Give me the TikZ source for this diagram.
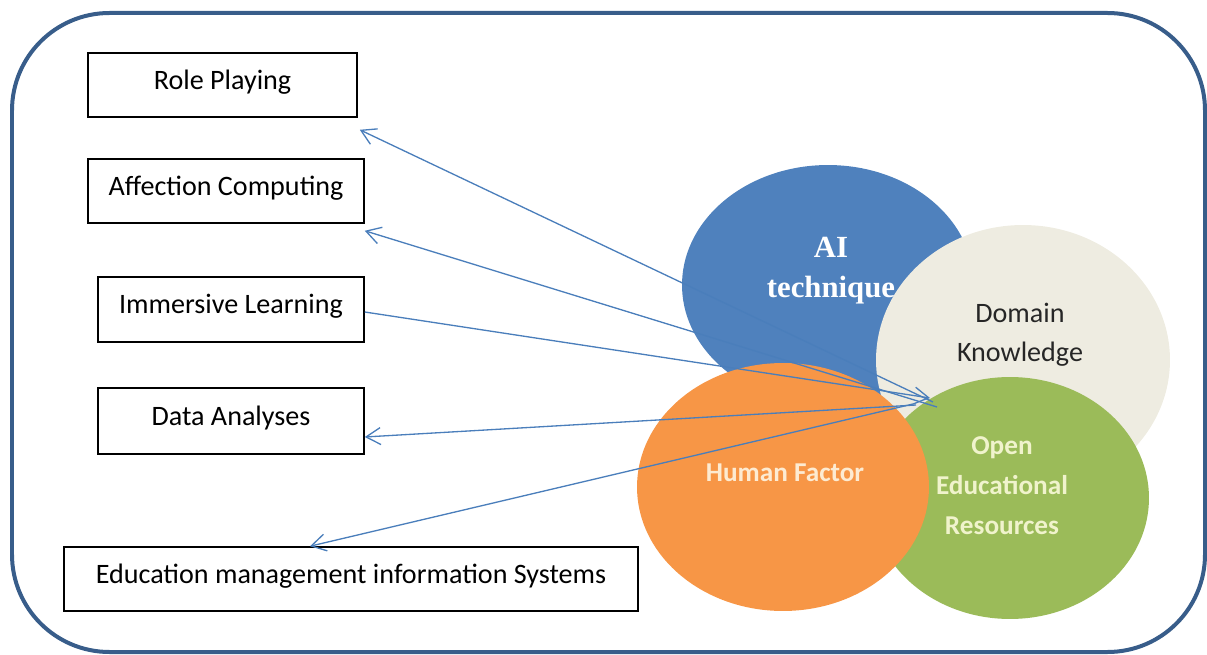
\documentclass[tikz,border=0pt]{standalone}
\usepackage{fontspec}
\setmainfont{Carlito}
\newfontfamily\serifbold{Liberation Serif}
\usetikzlibrary{shapes.geometric,arrows.meta}
\definecolor{framecol}{HTML}{385D8A}
\definecolor{arrowcol}{HTML}{4A7EBB}
\definecolor{aiblue}{HTML}{4F81BD}
\definecolor{dombeige}{HTML}{EEECE1}
\definecolor{oergreen}{HTML}{9BBB59}
\definecolor{hforange}{HTML}{F79646}
\definecolor{hftext}{HTML}{FDEBD2}
\definecolor{oertext}{HTML}{F0F3CC}

\begin{document}
\begin{tikzpicture}[x=0.02cm,y=-0.02cm,
  itembox/.style={draw=black,line width=0.9pt,fill=white,inner sep=0pt,minimum height=1.28cm,text height=1.5ex,text depth=0.5ex,font=\fontsize{16}{19}\selectfont},
  blob/.style={ellipse,inner sep=0pt},
  link/.style={draw=arrowcol,line width=0.75pt,-{Straight Barb[length=2.9mm,width=3.4mm]}}]
\useasboundingbox (0,0) rectangle (1207,655);
\draw[framecol,line width=0.08cm,rounded corners=1.95cm] (12,13) rectangle (1205,652);

\node[itembox,minimum width=5.38cm] (role) at (222.5,85) {Role Playing};
\node[itembox,minimum width=5.52cm] (affect) at (226,191) {Affection Computing};
\node[itembox,minimum width=5.32cm,minimum height=1.3cm] (immerse) at (231,309.5) {Immersive Learning};
\node[itembox,minimum width=5.32cm,minimum height=1.32cm] (data) at (231,421) {Data Analyses};
\node[itembox,minimum width=11.48cm] (emis) at (351,579) {Education management information Systems};

\node[blob,fill=aiblue,minimum width=5.84cm,minimum height=4.8cm] (ai) at (828,285) {};
\node[text=white,font=\serifbold\bfseries\fontsize{17.5}{22.7}\selectfont,align=center] (aitxt) at (831,271) {AI\\technique};
\node[blob,fill=dombeige,minimum width=5.88cm,minimum height=5.4cm] (dom) at (1023,360) {};
\node[blob,fill=oergreen,minimum width=5.56cm,minimum height=4.84cm] (oer) at (1010,498) {};
\node[blob,fill=hforange,minimum width=5.84cm,minimum height=4.96cm] (hf) at (783,487) {};

\node[text=black!85,font=\fontsize{16}{22}\selectfont,align=center] (domtxt) at (1020,335) {Domain\\Knowledge};
\node[text=hftext,font=\bfseries\fontsize{15.5}{20}\selectfont] (hftxt) at (785,473) {Human Factor};
\node[text=oertext,font=\bfseries\fontsize{15.5}{22.7}\selectfont,align=center] (oertxt) at (1002,486) {Open\\Educational\\Resources};

\coordinate (hubA) at (933,402);
\coordinate (hubB) at (937,407);
\coordinate (hubC) at (930,398);
\coordinate (hubD) at (916,405);
\coordinate (hubE) at (913,404);

\draw[link] (hubA) -- ([xshift=0.04cm,yshift=-0.24cm]role.south east);
\draw[link] (hubB) -- ([yshift=-0.14cm]affect.south east);
\draw[link] ([yshift=-0.05cm]immerse.east) -- (hubC);
\draw[link] (hubD) -- ([yshift=-0.32cm]data.east);
\draw[link] (hubE) -- ([xshift=-0.82cm]emis.north);
\end{tikzpicture}
\end{document}
